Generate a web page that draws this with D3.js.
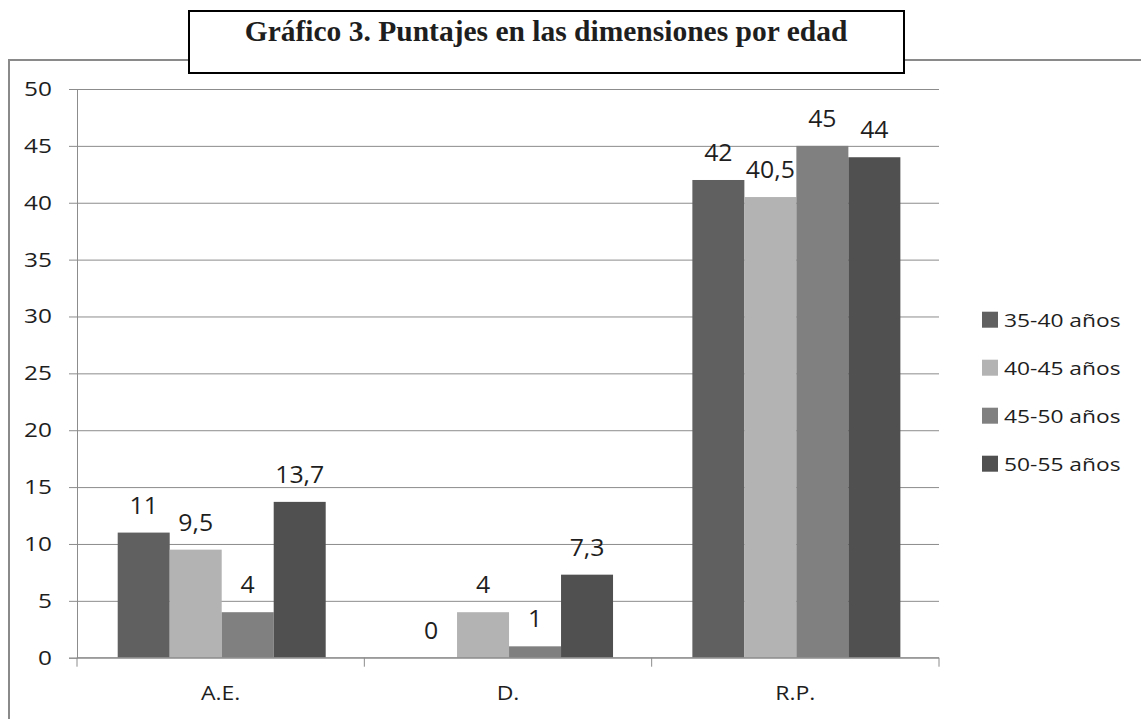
<!DOCTYPE html>
<html>
<head>
<meta charset="utf-8">
<script src="https://cdn.jsdelivr.net/npm/d3@7"></script>
<style>
body { margin: 0; background: #fff; }
text { font-family: "Open Sans", sans-serif; fill: #1e1e1e; }
</style>
</head>
<body>
<script>
var width = 1141;
var height = 719;

// data
var categories = ["A.E.", "D.", "R.P."];
var series = ["35-40 años", "40-45 años", "45-50 años", "50-55 años"];
var v3540 = [11, 0, 42];
var v4045 = [9.5, 4, 40.5];
var v4550 = [4, 1, 45];
var v5055 = [13.7, 7.3, 44];
var yTicks = [0, 5, 10, 15, 20, 25, 30, 35, 40, 45, 50];
var title = "Gráfico 3. Puntajes en las dimensiones por edad";

var values = [v3540, v4045, v4550, v5055];
var colors = ["#606060", "#b3b3b3", "#808080", "#505050"];

var plot = {left: 77, right: 939, top: 89, bottom: 657.7};
var sTick = 1.22, sLabel = 1.08, sLeg = 1.2, sCat = 1.15;

var svg = d3.select("body")
.append("svg")
.attr("width", width)
.attr("height", height);

svg.append("rect")
.attr("width", width).attr("height", height)
.attr("fill", "#fff");

// outer chart border (only left and top visible)
svg.append("rect")
.attr("x", 9).attr("y", 60)
.attr("width", 1200).attr("height", 800)
.attr("fill", "none")
.attr("stroke", "#8a8a8a")
.attr("stroke-width", 2);

var xScale = d3.scaleBand()
.domain(categories)
.range([plot.left, plot.right]);

var xInner = d3.scaleBand()
.domain(series)
.range([40.7, 248.7]);

var yScale = d3.scaleLinear()
.domain([0, 50])
.range([plot.bottom, plot.top]);

// gridlines
svg.append("g")
.attr("transform", "translate(" + plot.left + ",0)")
.call(d3.axisLeft(yScale).tickValues(yTicks).tickSize(-(plot.right - plot.left)).tickFormat(""))
.call(function(g){
	g.select(".domain").remove();
	g.selectAll("line").attr("stroke", "#8c8c8c");
});

// y axis
svg.append("g")
.attr("transform", "translate(" + plot.left + ",0)")
.call(d3.axisLeft(yScale).tickValues(yTicks).tickSize(8).tickPadding(17))
.call(function(g){
	g.select(".domain").attr("stroke", "#8c8c8c");
	g.selectAll("line").attr("stroke", "#8c8c8c");
	g.selectAll("text")
	.attr("x", -25 / sTick)
	.attr("transform", "scale(" + sTick + ",1)")
	.style("font-family", "Open Sans")
	.style("font-size", "20px")
	.attr("fill", "#1e1e1e");
});

// bars
var groups = svg.selectAll(".grp")
.data(series)
.enter()
.append("g")
.attr("class", "grp");

groups.selectAll("rect")
.data(function(s, i){
	return categories.map(function(c, j){ return {cat: c, ser: s, v: values[i][j], i: i}; });
})
.enter()
.append("rect")
.attr("x", function(d){ return xScale(d.cat) + xInner(d.ser); })
.attr("y", function(d){ return yScale(d.v); })
.attr("width", xInner.bandwidth())
.attr("height", function(d){ return yScale(0) - yScale(d.v); })
.attr("fill", function(d){ return colors[d.i]; });

// data labels
groups.selectAll("text")
.data(function(s, i){
	return categories.map(function(c, j){ return {cat: c, ser: s, v: values[i][j]}; });
})
.enter()
.append("text")
.attr("transform", function(d){
	var cx = xScale(d.cat) + xInner(d.ser) + xInner.bandwidth() / 2;
	return "translate(" + cx + "," + (yScale(d.v) - 19) + ") scale(" + sLabel + ",1)";
})
.attr("text-anchor", "middle")
.style("font-size", "23px")
.text(function(d){ return String(d.v).replace(".", ","); });

// x axis line and ticks at category edges
svg.append("line")
.attr("x1", plot.left).attr("x2", plot.right)
.attr("y1", yScale(0)).attr("y2", yScale(0))
.attr("stroke", "#8c8c8c");

var edges = categories.map(function(c){ return xScale(c); }).concat([xScale.range()[1]]);
svg.selectAll(".xtick")
.data(edges)
.enter()
.append("line")
.attr("x1", function(d){ return d; }).attr("x2", function(d){ return d; })
.attr("y1", yScale(0)).attr("y2", yScale(0) + 9)
.attr("stroke", "#8c8c8c");

svg.selectAll(".cat")
.data(categories)
.enter()
.append("text")
.attr("transform", function(d){
	return "translate(" + (xScale(d) + xScale.bandwidth() / 2) + ",700) scale(" + sCat + ",1)";
})
.attr("text-anchor", "middle")
.style("font-size", "20px")
.text(function(d){ return d; });

// legend
var legend = svg.selectAll(".leg")
.data(series)
.enter()
.append("g")
.attr("transform", function(d, i){ return "translate(982," + (311.7 + i * 48) + ")"; });

legend.append("rect")
.attr("width", 16).attr("height", 16)
.attr("fill", function(d, i){ return colors[i]; });

legend.append("text")
.attr("transform", "translate(22,15.5) scale(" + sLeg + ",1)")
.style("font-size", "19px")
.text(function(d){ return d; });

// title box
svg.append("rect")
.attr("x", 189).attr("y", 11)
.attr("width", 715).attr("height", 62)
.attr("fill", "#fff")
.attr("stroke", "#000")
.attr("stroke-width", 2);

svg.append("text")
.attr("x", 546).attr("y", 41)
.attr("text-anchor", "middle")
.style("font-family", "'Liberation Serif', serif")
.style("font-weight", "bold")
.style("font-size", "29.5px")
.attr("fill", "#000")
.text(title);
</script>
</body>
</html>
